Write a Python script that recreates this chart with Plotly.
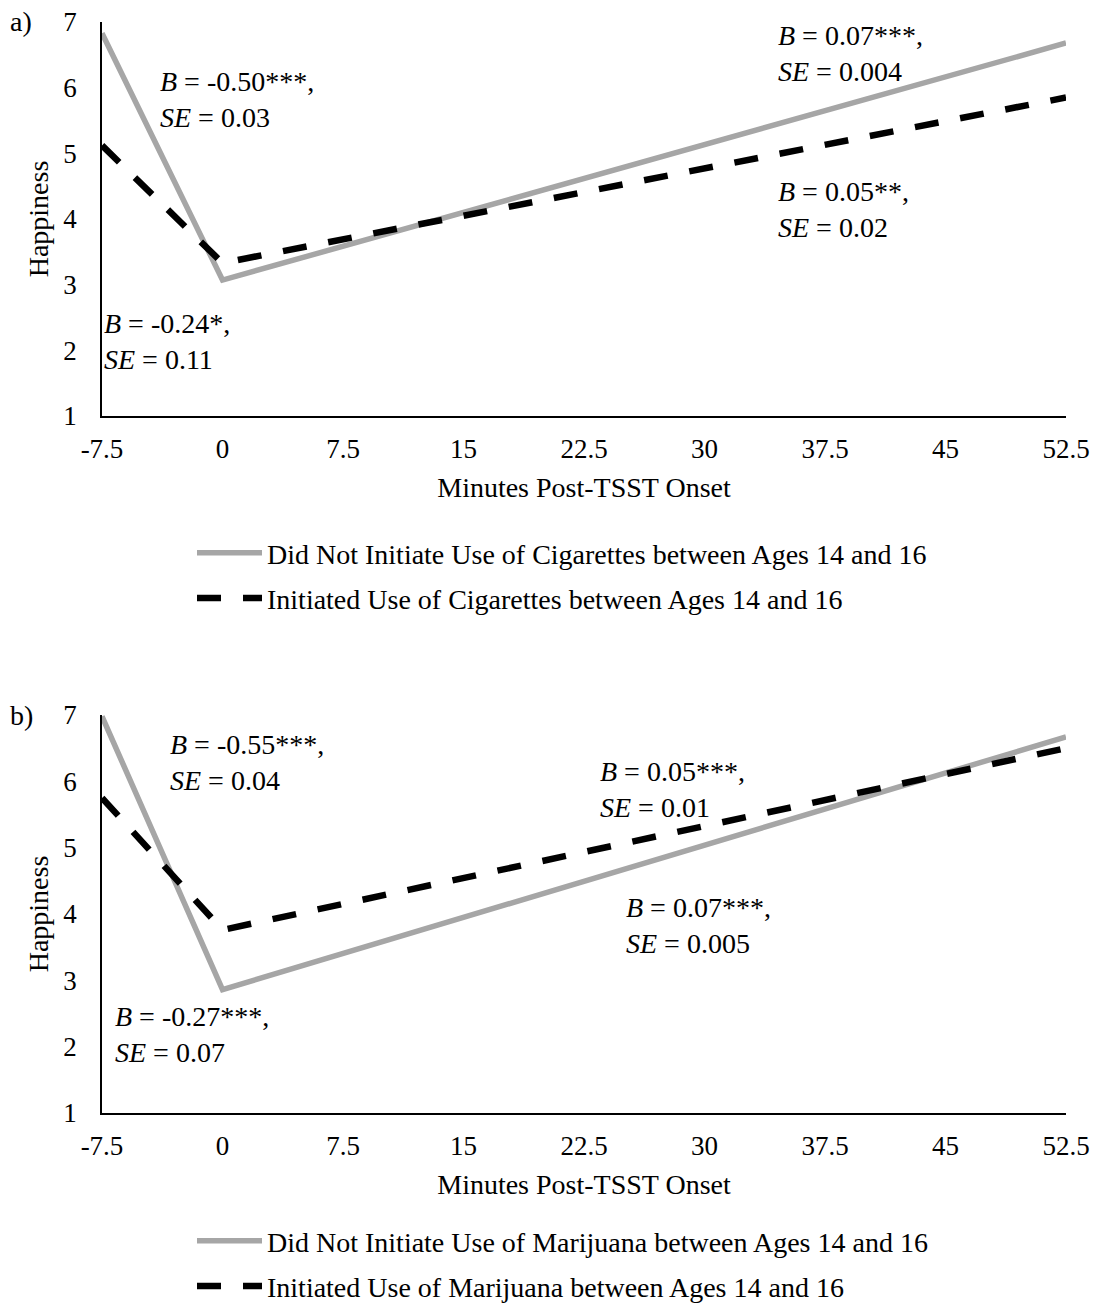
import plotly.graph_objects as go

# ---- data ----
minutes = [-7.5, 0, 52.5]
tick_vals = [-7.5, 0, 7.5, 15, 22.5, 30, 37.5, 45, 52.5]
tick_text = ["-7.5", "0", "7.5", "15", "22.5", "30", "37.5", "45", "52.5"]
y_ticks = [1, 2, 3, 4, 5, 6, 7]

cig_not_init = [6.83, 3.07, 6.68]
cig_init = [5.12, 3.33, 5.85]
mj_not_init = [6.98, 2.86, 6.67]
mj_init = [5.75, 3.76, 6.50]

names_a = ["Did Not Initiate Use of Cigarettes between Ages 14 and 16",
           "Initiated Use of Cigarettes between Ages 14 and 16"]
names_b = ["Did Not Initiate Use of Marijuana between Ages 14 and 16",
           "Initiated Use of Marijuana between Ages 14 and 16"]

ann_a = [("<i>B</i> = -0.50***,<br><i>SE</i> = 0.03", -4.0, 5.82),
         ("<i>B</i> = -0.24*,<br><i>SE</i> = 0.11", -7.5, 2.13),
         ("<i>B</i> = 0.07***,<br><i>SE</i> = 0.004", 34.45, 6.52),
         ("<i>B</i> = 0.05**,<br><i>SE</i> = 0.02", 34.45, 4.14)]
ann_b = [("<i>B</i> = -0.55***,<br><i>SE</i> = 0.04", -3.4, 6.29),
         ("<i>B</i> = -0.27***,<br><i>SE</i> = 0.07", -6.82, 2.19),
         ("<i>B</i> = 0.05***,<br><i>SE</i> = 0.01", 23.37, 5.87),
         ("<i>B</i> = 0.07***,<br><i>SE</i> = 0.005", 24.98, 3.82)]

FONT = "Liberation Serif, Times New Roman, serif"
GRAY = "#A6A6A6"
W, H = 1101, 1311
L, R = 102, 1066            # plot area left / right edge (px)
PW = R - L


def fy(py):
    """page pixel y -> paper fraction"""
    return 1 - py / H


def fx(px):
    """page pixel x -> paper fraction (relative to plot area)"""
    return (px - L) / PW


fig = go.Figure()


def add_pair(vals_gray, vals_black, names, xa, ya, leg):
    fig.add_trace(go.Scatter(x=minutes, y=vals_gray, mode="lines", name=names[0],
                             line=dict(color=GRAY, width=5.5), xaxis=xa, yaxis=ya,
                             legend=leg, legendgroup=leg + "g", hoverinfo="skip"))
    fig.add_trace(go.Scatter(x=minutes, y=vals_black, mode="lines", name=names[1],
                             line=dict(color="black", width=6.5, dash="24px,22px"),
                             xaxis=xa, yaxis=ya, legend=leg, legendgroup=leg + "k",
                             hoverinfo="skip"))


add_pair(cig_not_init, cig_init, names_a, "x", "y", "legend")
add_pair(mj_not_init, mj_init, names_b, "x2", "y2", "legend2")

xaxis_common = dict(range=[-7.5, 52.5], tickmode="array", tickvals=tick_vals, ticktext=tick_text,
                    showline=True, linecolor="black", linewidth=1.6, showgrid=False, zeroline=False,
                    automargin=False,
                    ticks="", ticklabelstandoff=8, tickfont=dict(family=FONT, size=27, color="black"),
                    title=dict(text="Minutes Post-TSST Onset", font=dict(family=FONT, size=28, color="black"),
                               standoff=14))
yaxis_common = dict(range=[1, 7], tickmode="array", tickvals=y_ticks,
                    showline=True, linecolor="black", linewidth=1.6, showgrid=False, zeroline=False,
                    automargin=False,
                    ticks="", ticklabelstandoff=18, tickfont=dict(family=FONT, size=27, color="black"),
                    title=dict(text="Happiness", font=dict(family=FONT, size=28, color="black"),
                               standoff=6))

dom_a = [fy(416), fy(22)]
dom_b = [fy(1113), fy(715)]

annotations = []
for txt, xx, yy in ann_a:
    annotations.append(dict(text=txt, x=xx, y=yy, xref="x", yref="y", xanchor="left", yanchor="middle",
                            align="left", showarrow=False, font=dict(family=FONT, size=28, color="black")))
for txt, xx, yy in ann_b:
    annotations.append(dict(text=txt, x=xx, y=yy, xref="x2", yref="y2", xanchor="left", yanchor="middle",
                            align="left", showarrow=False, font=dict(family=FONT, size=28, color="black")))
annotations.append(dict(text="a)", x=fx(8), y=fy(22), xref="paper", yref="paper", xanchor="left",
                        yanchor="middle", showarrow=False, font=dict(family=FONT, size=28, color="black")))
annotations.append(dict(text="b)", x=fx(8), y=fy(715), xref="paper", yref="paper", xanchor="left",
                        yanchor="middle", showarrow=False, font=dict(family=FONT, size=28, color="black")))

legend_common = dict(font=dict(family=FONT, size=28, color="black"), bgcolor="rgba(0,0,0,0)",
                     orientation="v", tracegroupgap=6, xanchor="left", itemwidth=65)

fig.update_layout(
    width=W, height=H,
    margin=dict(l=L, r=W - R, t=0, b=0),
    paper_bgcolor="white", plot_bgcolor="white",
    xaxis=dict(domain=[0, 1], anchor="y", **xaxis_common),
    yaxis=dict(domain=dom_a, anchor="x", **yaxis_common),
    xaxis2=dict(domain=[0, 1], anchor="y2", **xaxis_common),
    yaxis2=dict(domain=dom_b, anchor="x2", **yaxis_common),
    legend=dict(x=fx(192), y=fy(528), yanchor="top", yref="paper", xref="paper", **legend_common),
    legend2=dict(x=fx(192), y=fy(1311), yanchor="bottom", yref="paper", xref="paper", **legend_common),
    annotations=annotations,
    showlegend=True,
)

fig.write_html(
    "out.html",
    config={"displayModeBar": False},
    post_script="document.body.style.margin='0';document.documentElement.style.overflow='hidden';",
)
